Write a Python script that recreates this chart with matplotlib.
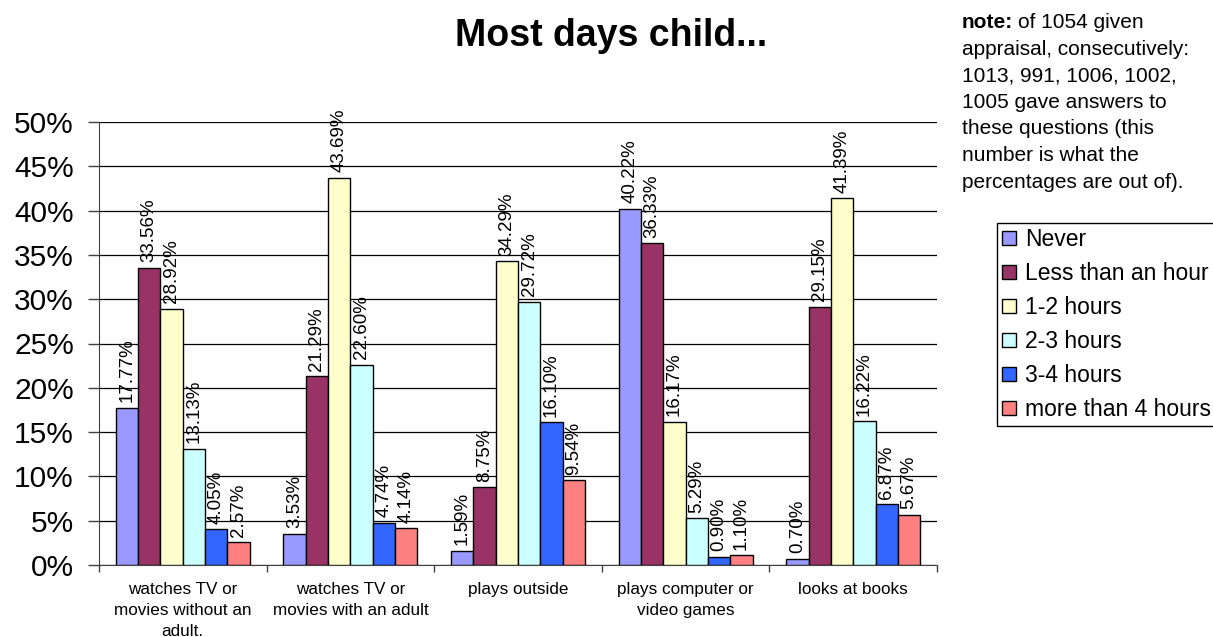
import matplotlib
matplotlib.use("Agg")
import matplotlib.pyplot as plt
import numpy as np

plt.rcParams['font.family'] = ['Liberation Sans', 'DejaVu Sans']

# Survey answers (percent of respondents)
categories = [
    "watches TV or\nmovies without an\nadult.",
    "watches TV or\nmovies with an adult",
    "plays outside",
    "plays computer or\nvideo games",
    "looks at books",
]
series_names = ["Never", "Less than an hour", "1-2 hours", "2-3 hours",
                "3-4 hours", "more than 4 hours"]
never = [17.77, 3.53, 1.59, 40.22, 0.70]
less_than_hour = [33.56, 21.29, 8.75, 36.33, 29.15]
one_two = [28.92, 43.69, 34.29, 16.17, 41.39]
two_three = [13.13, 22.60, 29.72, 5.29, 16.22]
three_four = [4.05, 4.74, 16.10, 0.90, 6.87]
more_than_four = [2.57, 4.14, 9.54, 1.10, 5.67]
series_values = [never, less_than_hour, one_two, two_three, three_four, more_than_four]
colors = ["#9999FF", "#993366", "#FFFFCC", "#CCFFFF", "#3366FF", "#FF8080"]
yticks = [0, 5, 10, 15, 20, 25, 30, 35, 40, 45, 50]

W, H = 1213, 637
fig = plt.figure(figsize=(W / 100, H / 100), dpi=100)
ax = fig.add_axes([99 / W, 1 - 565 / H, (937 - 99) / W, (565 - 122) / H])

n_series = len(series_values)
x = np.arange(len(categories))
bar_w = 1.0 / (n_series + 1.5)
offsets = (np.arange(n_series) - (n_series - 1) / 2) * bar_w

handles = []
for vals, name, col, off in zip(series_values, series_names, colors, offsets):
    bars = ax.bar(x + off, vals, width=bar_w, color=col, edgecolor="black",
                  linewidth=1.0, label=name, zorder=3)
    handles.append(bars)
    for b, v in zip(bars, vals):
        ax.annotate(f"{v:.2f}%", (b.get_x() + b.get_width() / 2, v),
                    xytext=(0, 4), textcoords="offset points",
                    rotation=90, ha="center", va="bottom", fontsize=13.5,
                    zorder=4)

ax.set_xlim(-0.5, len(categories) - 0.5)
ax.set_ylim(0, 50)
ax.set_yticks(yticks)
ax.set_yticklabels([f"{t}%" for t in yticks], fontsize=21.5)
ax.yaxis.grid(True, color="black", linewidth=0.9, zorder=0)
ax.set_axisbelow(True)

ax.set_xticks(x)
ax.set_xticklabels(categories, fontsize=12.3, linespacing=1.5)
ax.set_xticks(np.arange(len(categories) + 1) - 0.5, minor=True)
ax.tick_params(axis="x", which="major", length=0, pad=12)
ax.tick_params(axis="x", which="minor", length=5, width=1, color="#404040",
               direction="out")
ax.tick_params(axis="y", length=8, width=1, color="#404040", direction="out",
               pad=10)

for s in ("top", "right"):
    ax.spines[s].set_visible(False)
ax.spines["left"].set_color("#404040")
ax.spines["bottom"].set_color("#404040")

fig.text(611 / W, 1 - 36 / H, "Most days child...", ha="center", va="center",
         fontsize=27, fontweight="bold")

# Side note
note_x = 962 / W
note_lines = [
    "appraisal, consecutively:",
    "1013, 991, 1006, 1002,",
    "1005 gave answers to",
    "these questions (this",
    "number is what the",
    "percentages are out of).",
]
fs_note = 15
first_y = 1 - 23 / H
t_bold = fig.text(note_x, first_y, "note:", fontsize=fs_note, fontweight="bold",
                  ha="left", va="center")
renderer = fig.canvas.get_renderer()
bb = t_bold.get_window_extent(renderer)
fig.text(bb.x1 / W + 5 / W, first_y, "of 1054 given", fontsize=fs_note,
         ha="left", va="center")
for i, line in enumerate(note_lines, start=1):
    fig.text(note_x, first_y - i * 26.5 / H, line, fontsize=fs_note,
             ha="left", va="center")

leg = fig.legend(handles=handles, labels=series_names, loc="upper left",
                 bbox_to_anchor=(997 / W, 1 - 223 / H), fontsize=16.5,
                 frameon=True, fancybox=False, edgecolor="black",
                 framealpha=1, handlelength=0.62, handleheight=0.62,
                 handletextpad=0.4, labelspacing=0.48, borderpad=0.22,
                 borderaxespad=0)
leg.get_frame().set_linewidth(1.0)

fig.savefig("out.png", dpi=100)
